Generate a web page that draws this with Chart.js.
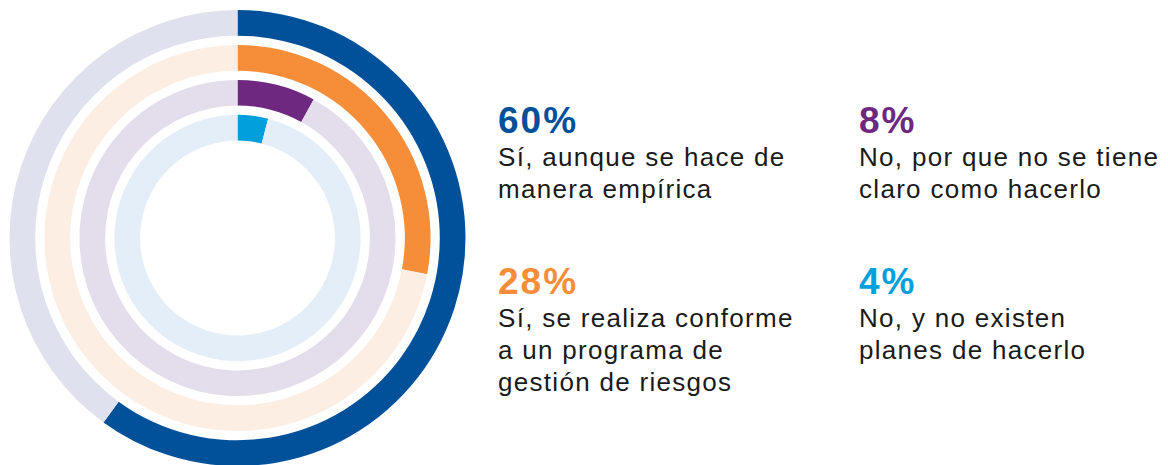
<!DOCTYPE html>
<html>
<head>
<meta charset="utf-8">
<script src="https://cdn.jsdelivr.net/npm/chart.js@4/dist/chart.umd.min.js"></script>
<style>
    html, body { margin: 0; padding: 0; background: #fff; overflow: hidden; }
    body { width: 1168px; height: 465px; position: relative; }
    #chartBox { position: absolute; left: 0; top: 0; width: 475px; height: 476px; }
    .block { position: absolute; font-family: "Liberation Sans", Arial, sans-serif; }
    .pct { font-size: 37px; font-weight: bold; line-height: 40px; height: 40px; letter-spacing: 2px; }
    .desc { font-size: 26px; line-height: 32px; color: #1a1a1a; letter-spacing: 1.3px; white-space: nowrap; }
</style>
</head>
<body>
<div id="chartBox"><canvas id="graphCanvas"></canvas></div>
<div id="legend"></div>
<script>
// answers, outer ring first
var answers = [
    ['Sí, aunque se hace de', 'manera empírica'],
    ['Sí, se realiza conforme', 'a un programa de', 'gestión de riesgos'],
    ['No, por que no se tiene', 'claro como hacerlo'],
    ['No, y no existen', 'planes de hacerlo']
];
var percents = [60, 28, 8, 4];
var mainColors = ['#01509a', '#f68d39', '#6e2880', '#019fdc'];
var trackColors = ['#dfe1ef', '#fdeee3', '#e4deec', '#e4eef8'];

// legend text positions (left, top)
var blockPos = [[498, 101], [498, 262], [859, 101], [859, 262]];

var datasets = [];
for (var i in percents) {
    if (i > 0) {
        // white gap between rings
        datasets.push({
            data: [100],
            backgroundColor: ['rgba(0,0,0,0)'],
            weight: 9
        });
    }
    datasets.push({
        data: [percents[i], 100 - percents[i]],
        backgroundColor: [mainColors[i], trackColors[i]],
        weight: 25
    });
}

new Chart(document.getElementById('graphCanvas'), {
    type: 'doughnut',
    data: {
        labels: ['value', 'rest'],
        datasets: datasets
    },
    options: {
        responsive: true,
        maintainAspectRatio: false,
        animation: false,
        radius: 228,
        cutout: 101.5,
        borderWidth: 0,
        plugins: {
            legend: { display: false },
            tooltip: { enabled: false }
        }
    }
});

var legend = document.getElementById('legend');
for (var j in percents) {
    var block = document.createElement('div');
    block.className = 'block';
    block.style.left = blockPos[j][0] + 'px';
    block.style.top = blockPos[j][1] + 'px';
    var pct = document.createElement('div');
    pct.className = 'pct';
    pct.style.color = mainColors[j];
    pct.textContent = percents[j] + '%';
    block.appendChild(pct);
    for (var k in answers[j]) {
        var line = document.createElement('div');
        line.className = 'desc';
        line.textContent = answers[j][k];
        block.appendChild(line);
    }
    legend.appendChild(block);
}
</script>
</body>
</html>
